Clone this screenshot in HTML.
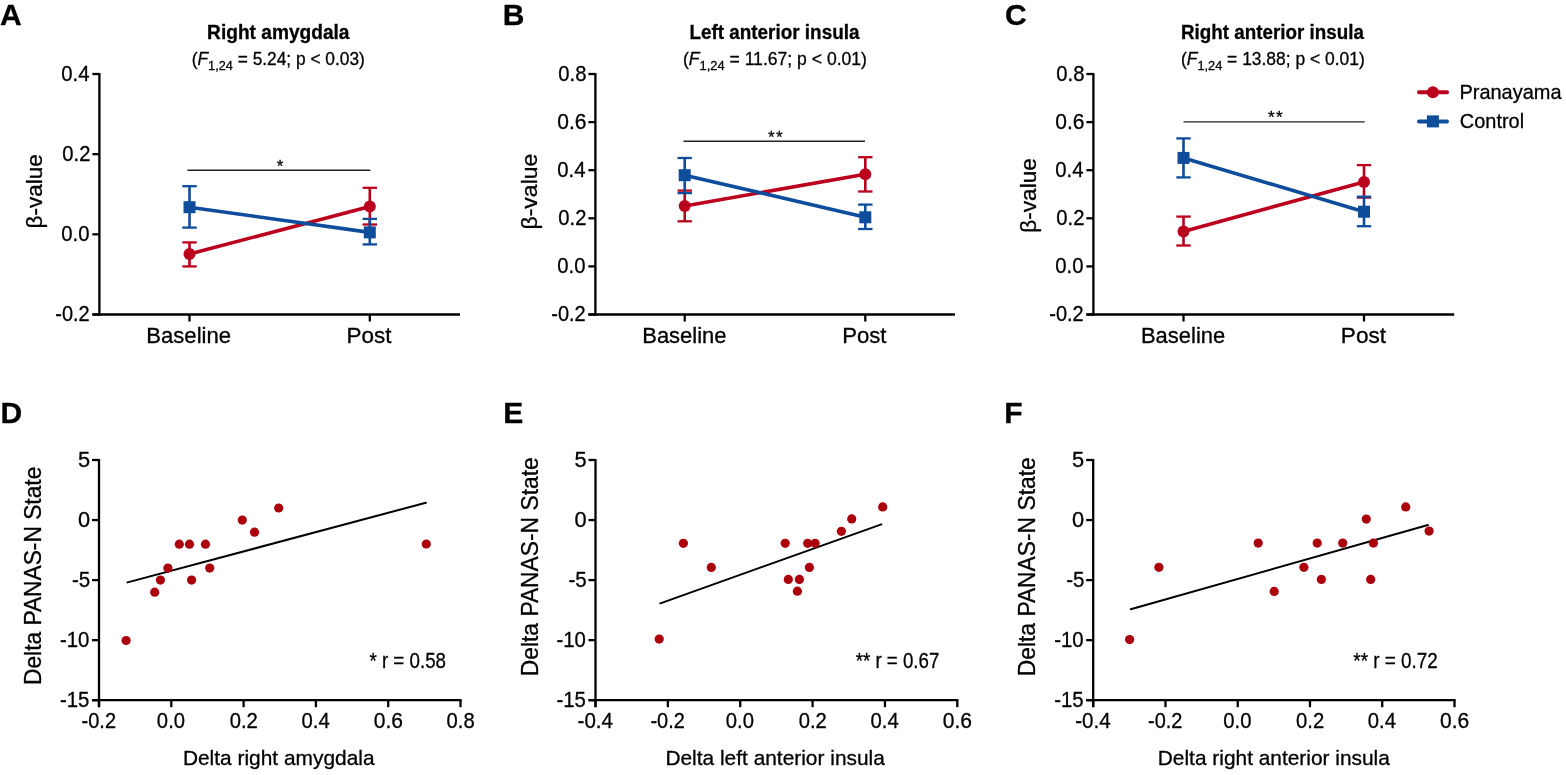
<!DOCTYPE html>
<html><head><meta charset="utf-8"><title>Figure</title>
<style>
html,body{margin:0;padding:0;background:#fff;}
body{width:1566px;height:775px;overflow:hidden;}
svg{display:block;font-family:'Liberation Sans', Arial, sans-serif;}
text{stroke:#000;stroke-width:0.3px;stroke-linejoin:round;}
</style></head><body>
<svg width="1566" height="775" viewBox="0 0 1566 775">
<rect width="1566" height="775" fill="#fff"/>
<line x1="99.40" y1="73.00" x2="99.40" y2="315.65" stroke="#000" stroke-width="2.3" stroke-linecap="butt"/>
<line x1="92.40" y1="314.50" x2="460.00" y2="314.50" stroke="#000" stroke-width="2.3" stroke-linecap="butt"/>
<line x1="92.40" y1="314.50" x2="99.40" y2="314.50" stroke="#000" stroke-width="2.3" stroke-linecap="butt"/>
<line x1="92.40" y1="234.33" x2="99.40" y2="234.33" stroke="#000" stroke-width="2.3" stroke-linecap="butt"/>
<line x1="92.40" y1="154.17" x2="99.40" y2="154.17" stroke="#000" stroke-width="2.3" stroke-linecap="butt"/>
<line x1="92.40" y1="74.00" x2="99.40" y2="74.00" stroke="#000" stroke-width="2.3" stroke-linecap="butt"/>
<line x1="189.50" y1="314.50" x2="189.50" y2="321.50" stroke="#000" stroke-width="2.3" stroke-linecap="butt"/>
<line x1="369.80" y1="314.50" x2="369.80" y2="321.50" stroke="#000" stroke-width="2.3" stroke-linecap="butt"/>
<line x1="187.40" y1="170.20" x2="370.40" y2="170.20" stroke="#222" stroke-width="1.4" stroke-linecap="butt"/>
<line x1="189.50" y1="254.10" x2="369.80" y2="206.40" stroke="#bb001d" stroke-width="3.6" stroke-linecap="butt"/>
<line x1="189.50" y1="242.40" x2="189.50" y2="266.40" stroke="#bb001d" stroke-width="2.6" stroke-linecap="butt"/>
<line x1="182.30" y1="242.40" x2="196.70" y2="242.40" stroke="#bb001d" stroke-width="2.3" stroke-linecap="butt"/>
<line x1="182.30" y1="266.40" x2="196.70" y2="266.40" stroke="#bb001d" stroke-width="2.3" stroke-linecap="butt"/>
<circle cx="189.5" cy="254.1" r="6" fill="#bb001d"/>
<line x1="369.80" y1="187.80" x2="369.80" y2="224.50" stroke="#bb001d" stroke-width="2.6" stroke-linecap="butt"/>
<line x1="362.60" y1="187.80" x2="377.00" y2="187.80" stroke="#bb001d" stroke-width="2.3" stroke-linecap="butt"/>
<line x1="362.60" y1="224.50" x2="377.00" y2="224.50" stroke="#bb001d" stroke-width="2.3" stroke-linecap="butt"/>
<circle cx="369.8" cy="206.4" r="6" fill="#bb001d"/>
<line x1="189.50" y1="207.20" x2="369.80" y2="232.40" stroke="#0e4c9c" stroke-width="3.6" stroke-linecap="butt"/>
<line x1="189.50" y1="186.20" x2="189.50" y2="227.60" stroke="#0e4c9c" stroke-width="2.6" stroke-linecap="butt"/>
<line x1="182.30" y1="186.20" x2="196.70" y2="186.20" stroke="#0e4c9c" stroke-width="2.3" stroke-linecap="butt"/>
<line x1="182.30" y1="227.60" x2="196.70" y2="227.60" stroke="#0e4c9c" stroke-width="2.3" stroke-linecap="butt"/>
<rect x="183.5" y="201.2" width="12" height="12" fill="#0e4c9c"/>
<line x1="369.80" y1="218.90" x2="369.80" y2="244.40" stroke="#0e4c9c" stroke-width="2.6" stroke-linecap="butt"/>
<line x1="362.60" y1="218.90" x2="377.00" y2="218.90" stroke="#0e4c9c" stroke-width="2.3" stroke-linecap="butt"/>
<line x1="362.60" y1="244.40" x2="377.00" y2="244.40" stroke="#0e4c9c" stroke-width="2.3" stroke-linecap="butt"/>
<rect x="363.8" y="226.4" width="12" height="12" fill="#0e4c9c"/>
<line x1="595.40" y1="73.00" x2="595.40" y2="315.65" stroke="#000" stroke-width="2.3" stroke-linecap="butt"/>
<line x1="588.40" y1="314.50" x2="955.00" y2="314.50" stroke="#000" stroke-width="2.3" stroke-linecap="butt"/>
<line x1="588.40" y1="314.50" x2="595.40" y2="314.50" stroke="#000" stroke-width="2.3" stroke-linecap="butt"/>
<line x1="588.40" y1="266.40" x2="595.40" y2="266.40" stroke="#000" stroke-width="2.3" stroke-linecap="butt"/>
<line x1="588.40" y1="218.30" x2="595.40" y2="218.30" stroke="#000" stroke-width="2.3" stroke-linecap="butt"/>
<line x1="588.40" y1="170.20" x2="595.40" y2="170.20" stroke="#000" stroke-width="2.3" stroke-linecap="butt"/>
<line x1="588.40" y1="122.10" x2="595.40" y2="122.10" stroke="#000" stroke-width="2.3" stroke-linecap="butt"/>
<line x1="588.40" y1="74.00" x2="595.40" y2="74.00" stroke="#000" stroke-width="2.3" stroke-linecap="butt"/>
<line x1="684.70" y1="314.50" x2="684.70" y2="321.50" stroke="#000" stroke-width="2.3" stroke-linecap="butt"/>
<line x1="865.30" y1="314.50" x2="865.30" y2="321.50" stroke="#000" stroke-width="2.3" stroke-linecap="butt"/>
<line x1="683.50" y1="141.30" x2="865.00" y2="141.30" stroke="#222" stroke-width="1.4" stroke-linecap="butt"/>
<line x1="684.70" y1="205.90" x2="865.30" y2="174.30" stroke="#bb001d" stroke-width="3.6" stroke-linecap="butt"/>
<line x1="684.70" y1="190.60" x2="684.70" y2="221.30" stroke="#bb001d" stroke-width="2.6" stroke-linecap="butt"/>
<line x1="677.50" y1="190.60" x2="691.90" y2="190.60" stroke="#bb001d" stroke-width="2.3" stroke-linecap="butt"/>
<line x1="677.50" y1="221.30" x2="691.90" y2="221.30" stroke="#bb001d" stroke-width="2.3" stroke-linecap="butt"/>
<circle cx="684.7" cy="205.9" r="6" fill="#bb001d"/>
<line x1="865.30" y1="157.20" x2="865.30" y2="191.50" stroke="#bb001d" stroke-width="2.6" stroke-linecap="butt"/>
<line x1="858.10" y1="157.20" x2="872.50" y2="157.20" stroke="#bb001d" stroke-width="2.3" stroke-linecap="butt"/>
<line x1="858.10" y1="191.50" x2="872.50" y2="191.50" stroke="#bb001d" stroke-width="2.3" stroke-linecap="butt"/>
<circle cx="865.3" cy="174.3" r="6" fill="#bb001d"/>
<line x1="684.70" y1="175.20" x2="865.30" y2="217.30" stroke="#0e4c9c" stroke-width="3.6" stroke-linecap="butt"/>
<line x1="684.70" y1="158.00" x2="684.70" y2="193.10" stroke="#0e4c9c" stroke-width="2.6" stroke-linecap="butt"/>
<line x1="677.50" y1="158.00" x2="691.90" y2="158.00" stroke="#0e4c9c" stroke-width="2.3" stroke-linecap="butt"/>
<line x1="677.50" y1="193.10" x2="691.90" y2="193.10" stroke="#0e4c9c" stroke-width="2.3" stroke-linecap="butt"/>
<rect x="678.7" y="169.2" width="12" height="12" fill="#0e4c9c"/>
<line x1="865.30" y1="204.60" x2="865.30" y2="229.00" stroke="#0e4c9c" stroke-width="2.6" stroke-linecap="butt"/>
<line x1="858.10" y1="204.60" x2="872.50" y2="204.60" stroke="#0e4c9c" stroke-width="2.3" stroke-linecap="butt"/>
<line x1="858.10" y1="229.00" x2="872.50" y2="229.00" stroke="#0e4c9c" stroke-width="2.3" stroke-linecap="butt"/>
<rect x="859.3" y="211.3" width="12" height="12" fill="#0e4c9c"/>
<line x1="1093.40" y1="73.00" x2="1093.40" y2="315.65" stroke="#000" stroke-width="2.3" stroke-linecap="butt"/>
<line x1="1086.40" y1="314.50" x2="1454.20" y2="314.50" stroke="#000" stroke-width="2.3" stroke-linecap="butt"/>
<line x1="1086.40" y1="314.50" x2="1093.40" y2="314.50" stroke="#000" stroke-width="2.3" stroke-linecap="butt"/>
<line x1="1086.40" y1="266.40" x2="1093.40" y2="266.40" stroke="#000" stroke-width="2.3" stroke-linecap="butt"/>
<line x1="1086.40" y1="218.30" x2="1093.40" y2="218.30" stroke="#000" stroke-width="2.3" stroke-linecap="butt"/>
<line x1="1086.40" y1="170.20" x2="1093.40" y2="170.20" stroke="#000" stroke-width="2.3" stroke-linecap="butt"/>
<line x1="1086.40" y1="122.10" x2="1093.40" y2="122.10" stroke="#000" stroke-width="2.3" stroke-linecap="butt"/>
<line x1="1086.40" y1="74.00" x2="1093.40" y2="74.00" stroke="#000" stroke-width="2.3" stroke-linecap="butt"/>
<line x1="1183.50" y1="314.50" x2="1183.50" y2="321.50" stroke="#000" stroke-width="2.3" stroke-linecap="butt"/>
<line x1="1364.00" y1="314.50" x2="1364.00" y2="321.50" stroke="#000" stroke-width="2.3" stroke-linecap="butt"/>
<line x1="1183.50" y1="121.90" x2="1364.70" y2="121.90" stroke="#222" stroke-width="1.4" stroke-linecap="butt"/>
<line x1="1183.50" y1="231.40" x2="1364.00" y2="181.90" stroke="#bb001d" stroke-width="3.6" stroke-linecap="butt"/>
<line x1="1183.50" y1="216.60" x2="1183.50" y2="245.50" stroke="#bb001d" stroke-width="2.6" stroke-linecap="butt"/>
<line x1="1176.30" y1="216.60" x2="1190.70" y2="216.60" stroke="#bb001d" stroke-width="2.3" stroke-linecap="butt"/>
<line x1="1176.30" y1="245.50" x2="1190.70" y2="245.50" stroke="#bb001d" stroke-width="2.3" stroke-linecap="butt"/>
<circle cx="1183.5" cy="231.4" r="6" fill="#bb001d"/>
<line x1="1364.00" y1="165.10" x2="1364.00" y2="197.60" stroke="#bb001d" stroke-width="2.6" stroke-linecap="butt"/>
<line x1="1356.80" y1="165.10" x2="1371.20" y2="165.10" stroke="#bb001d" stroke-width="2.3" stroke-linecap="butt"/>
<line x1="1356.80" y1="197.60" x2="1371.20" y2="197.60" stroke="#bb001d" stroke-width="2.3" stroke-linecap="butt"/>
<circle cx="1364" cy="181.9" r="6" fill="#bb001d"/>
<line x1="1183.50" y1="157.90" x2="1364.00" y2="211.70" stroke="#0e4c9c" stroke-width="3.6" stroke-linecap="butt"/>
<line x1="1183.50" y1="138.40" x2="1183.50" y2="177.40" stroke="#0e4c9c" stroke-width="2.6" stroke-linecap="butt"/>
<line x1="1176.30" y1="138.40" x2="1190.70" y2="138.40" stroke="#0e4c9c" stroke-width="2.3" stroke-linecap="butt"/>
<line x1="1176.30" y1="177.40" x2="1190.70" y2="177.40" stroke="#0e4c9c" stroke-width="2.3" stroke-linecap="butt"/>
<rect x="1177.5" y="151.9" width="12" height="12" fill="#0e4c9c"/>
<line x1="1364.00" y1="196.70" x2="1364.00" y2="226.20" stroke="#0e4c9c" stroke-width="2.6" stroke-linecap="butt"/>
<line x1="1356.80" y1="196.70" x2="1371.20" y2="196.70" stroke="#0e4c9c" stroke-width="2.3" stroke-linecap="butt"/>
<line x1="1356.80" y1="226.20" x2="1371.20" y2="226.20" stroke="#0e4c9c" stroke-width="2.3" stroke-linecap="butt"/>
<rect x="1358" y="205.7" width="12" height="12" fill="#0e4c9c"/>
<line x1="1419.00" y1="92.30" x2="1447.00" y2="92.30" stroke="#bb001d" stroke-width="4" stroke-linecap="round"/>
<circle cx="1432.9" cy="92.3" r="6" fill="#bb001d"/>
<line x1="1419.00" y1="121.40" x2="1447.00" y2="121.40" stroke="#0e4c9c" stroke-width="4" stroke-linecap="round"/>
<rect x="1426.9" y="115.4" width="12" height="12" fill="#0e4c9c"/>
<line x1="99.00" y1="459.00" x2="99.00" y2="707.20" stroke="#000" stroke-width="2.3" stroke-linecap="butt"/>
<line x1="92.00" y1="700.20" x2="461.65" y2="700.20" stroke="#000" stroke-width="2.3" stroke-linecap="butt"/>
<line x1="92.00" y1="460.00" x2="99.00" y2="460.00" stroke="#000" stroke-width="2.3" stroke-linecap="butt"/>
<line x1="92.00" y1="520.05" x2="99.00" y2="520.05" stroke="#000" stroke-width="2.3" stroke-linecap="butt"/>
<line x1="92.00" y1="580.10" x2="99.00" y2="580.10" stroke="#000" stroke-width="2.3" stroke-linecap="butt"/>
<line x1="92.00" y1="640.15" x2="99.00" y2="640.15" stroke="#000" stroke-width="2.3" stroke-linecap="butt"/>
<line x1="92.00" y1="700.20" x2="99.00" y2="700.20" stroke="#000" stroke-width="2.3" stroke-linecap="butt"/>
<line x1="99.00" y1="700.20" x2="99.00" y2="707.20" stroke="#000" stroke-width="2.3" stroke-linecap="butt"/>
<line x1="171.30" y1="700.20" x2="171.30" y2="707.20" stroke="#000" stroke-width="2.3" stroke-linecap="butt"/>
<line x1="243.60" y1="700.20" x2="243.60" y2="707.20" stroke="#000" stroke-width="2.3" stroke-linecap="butt"/>
<line x1="315.90" y1="700.20" x2="315.90" y2="707.20" stroke="#000" stroke-width="2.3" stroke-linecap="butt"/>
<line x1="388.20" y1="700.20" x2="388.20" y2="707.20" stroke="#000" stroke-width="2.3" stroke-linecap="butt"/>
<line x1="460.50" y1="700.20" x2="460.50" y2="707.20" stroke="#000" stroke-width="2.3" stroke-linecap="butt"/>
<line x1="127.57" y1="582.39" x2="425.93" y2="502.71" stroke="#000" stroke-width="2.0" stroke-linecap="round"/>
<circle cx="126.1" cy="640.5" r="4.6" fill="#ab000c"/>
<circle cx="154.7" cy="592.2" r="4.6" fill="#ab000c"/>
<circle cx="160.4" cy="580.1" r="4.6" fill="#ab000c"/>
<circle cx="167.9" cy="568.1" r="4.6" fill="#ab000c"/>
<circle cx="179.3" cy="544.2" r="4.6" fill="#ab000c"/>
<circle cx="189.5" cy="544.2" r="4.6" fill="#ab000c"/>
<circle cx="205.5" cy="544.2" r="4.6" fill="#ab000c"/>
<circle cx="191.6" cy="580.1" r="4.6" fill="#ab000c"/>
<circle cx="209.7" cy="568.1" r="4.6" fill="#ab000c"/>
<circle cx="242.3" cy="520.1" r="4.6" fill="#ab000c"/>
<circle cx="254.5" cy="532.2" r="4.6" fill="#ab000c"/>
<circle cx="278.7" cy="508" r="4.6" fill="#ab000c"/>
<circle cx="426.3" cy="544" r="4.6" fill="#ab000c"/>
<line x1="595.50" y1="459.00" x2="595.50" y2="707.20" stroke="#000" stroke-width="2.3" stroke-linecap="butt"/>
<line x1="588.50" y1="700.20" x2="958.45" y2="700.20" stroke="#000" stroke-width="2.3" stroke-linecap="butt"/>
<line x1="588.50" y1="460.00" x2="595.50" y2="460.00" stroke="#000" stroke-width="2.3" stroke-linecap="butt"/>
<line x1="588.50" y1="520.05" x2="595.50" y2="520.05" stroke="#000" stroke-width="2.3" stroke-linecap="butt"/>
<line x1="588.50" y1="580.10" x2="595.50" y2="580.10" stroke="#000" stroke-width="2.3" stroke-linecap="butt"/>
<line x1="588.50" y1="640.15" x2="595.50" y2="640.15" stroke="#000" stroke-width="2.3" stroke-linecap="butt"/>
<line x1="588.50" y1="700.20" x2="595.50" y2="700.20" stroke="#000" stroke-width="2.3" stroke-linecap="butt"/>
<line x1="595.50" y1="700.20" x2="595.50" y2="707.20" stroke="#000" stroke-width="2.3" stroke-linecap="butt"/>
<line x1="667.86" y1="700.20" x2="667.86" y2="707.20" stroke="#000" stroke-width="2.3" stroke-linecap="butt"/>
<line x1="740.22" y1="700.20" x2="740.22" y2="707.20" stroke="#000" stroke-width="2.3" stroke-linecap="butt"/>
<line x1="812.58" y1="700.20" x2="812.58" y2="707.20" stroke="#000" stroke-width="2.3" stroke-linecap="butt"/>
<line x1="884.94" y1="700.20" x2="884.94" y2="707.20" stroke="#000" stroke-width="2.3" stroke-linecap="butt"/>
<line x1="957.30" y1="700.20" x2="957.30" y2="707.20" stroke="#000" stroke-width="2.3" stroke-linecap="butt"/>
<line x1="660.35" y1="603.33" x2="881.35" y2="524.37" stroke="#000" stroke-width="2.0" stroke-linecap="round"/>
<circle cx="659.2" cy="639.1" r="4.6" fill="#ab000c"/>
<circle cx="683.4" cy="543.3" r="4.6" fill="#ab000c"/>
<circle cx="711.3" cy="567.4" r="4.6" fill="#ab000c"/>
<circle cx="785.2" cy="543.3" r="4.6" fill="#ab000c"/>
<circle cx="788.3" cy="579.4" r="4.6" fill="#ab000c"/>
<circle cx="799.4" cy="579.4" r="4.6" fill="#ab000c"/>
<circle cx="797.4" cy="591.2" r="4.6" fill="#ab000c"/>
<circle cx="807.7" cy="543.3" r="4.6" fill="#ab000c"/>
<circle cx="815.1" cy="543.3" r="4.6" fill="#ab000c"/>
<circle cx="809.4" cy="567.4" r="4.6" fill="#ab000c"/>
<circle cx="841.4" cy="531.3" r="4.6" fill="#ab000c"/>
<circle cx="851.7" cy="518.9" r="4.6" fill="#ab000c"/>
<circle cx="882.7" cy="506.9" r="4.6" fill="#ab000c"/>
<line x1="1093.20" y1="459.00" x2="1093.20" y2="707.20" stroke="#000" stroke-width="2.3" stroke-linecap="butt"/>
<line x1="1086.20" y1="700.20" x2="1455.65" y2="700.20" stroke="#000" stroke-width="2.3" stroke-linecap="butt"/>
<line x1="1086.20" y1="460.00" x2="1093.20" y2="460.00" stroke="#000" stroke-width="2.3" stroke-linecap="butt"/>
<line x1="1086.20" y1="520.05" x2="1093.20" y2="520.05" stroke="#000" stroke-width="2.3" stroke-linecap="butt"/>
<line x1="1086.20" y1="580.10" x2="1093.20" y2="580.10" stroke="#000" stroke-width="2.3" stroke-linecap="butt"/>
<line x1="1086.20" y1="640.15" x2="1093.20" y2="640.15" stroke="#000" stroke-width="2.3" stroke-linecap="butt"/>
<line x1="1086.20" y1="700.20" x2="1093.20" y2="700.20" stroke="#000" stroke-width="2.3" stroke-linecap="butt"/>
<line x1="1093.20" y1="700.20" x2="1093.20" y2="707.20" stroke="#000" stroke-width="2.3" stroke-linecap="butt"/>
<line x1="1165.46" y1="700.20" x2="1165.46" y2="707.20" stroke="#000" stroke-width="2.3" stroke-linecap="butt"/>
<line x1="1237.72" y1="700.20" x2="1237.72" y2="707.20" stroke="#000" stroke-width="2.3" stroke-linecap="butt"/>
<line x1="1309.98" y1="700.20" x2="1309.98" y2="707.20" stroke="#000" stroke-width="2.3" stroke-linecap="butt"/>
<line x1="1382.24" y1="700.20" x2="1382.24" y2="707.20" stroke="#000" stroke-width="2.3" stroke-linecap="butt"/>
<line x1="1454.50" y1="700.20" x2="1454.50" y2="707.20" stroke="#000" stroke-width="2.3" stroke-linecap="butt"/>
<line x1="1130.77" y1="609.18" x2="1427.93" y2="525.02" stroke="#000" stroke-width="2.0" stroke-linecap="round"/>
<circle cx="1129.6" cy="639.6" r="4.6" fill="#ab000c"/>
<circle cx="1158.9" cy="567.3" r="4.6" fill="#ab000c"/>
<circle cx="1258.2" cy="543.1" r="4.6" fill="#ab000c"/>
<circle cx="1274.2" cy="591.4" r="4.6" fill="#ab000c"/>
<circle cx="1303.9" cy="567.3" r="4.6" fill="#ab000c"/>
<circle cx="1317.2" cy="543.1" r="4.6" fill="#ab000c"/>
<circle cx="1321.4" cy="579.4" r="4.6" fill="#ab000c"/>
<circle cx="1342.7" cy="543.1" r="4.6" fill="#ab000c"/>
<circle cx="1366.3" cy="519.1" r="4.6" fill="#ab000c"/>
<circle cx="1373.4" cy="543.1" r="4.6" fill="#ab000c"/>
<circle cx="1370.7" cy="579.4" r="4.6" fill="#ab000c"/>
<circle cx="1405.7" cy="506.9" r="4.6" fill="#ab000c"/>
<circle cx="1429.1" cy="531.1" r="4.6" fill="#ab000c"/>
<text x="0.00" y="24.50" font-size="30" font-weight="700">A</text>
<text x="502.70" y="24.50" font-size="30" font-weight="700">B</text>
<text x="1004.90" y="24.50" font-size="30" font-weight="700">C</text>
<text x="0.60" y="422.70" font-size="30" font-weight="700">D</text>
<text x="503.30" y="422.70" font-size="30" font-weight="700">E</text>
<text x="1004.20" y="422.70" font-size="30" font-weight="700">F</text>
<text x="55.28" y="321.40" font-size="21.8" font-weight="400" textLength="34.43" lengthAdjust="spacingAndGlyphs">-0.2</text>
<text x="61.27" y="241.23" font-size="21.8" font-weight="400" textLength="28.22" lengthAdjust="spacingAndGlyphs">0.0</text>
<text x="62.27" y="161.07" font-size="21.8" font-weight="400" textLength="28.15" lengthAdjust="spacingAndGlyphs">0.2</text>
<text x="61.27" y="80.90" font-size="21.8" font-weight="400" textLength="28.22" lengthAdjust="spacingAndGlyphs">0.4</text>
<text x="146.32" y="343.10" font-size="21.2" font-weight="400" textLength="84.72" lengthAdjust="spacingAndGlyphs">Baseline</text>
<text x="346.48" y="343.10" font-size="21.2" font-weight="400" textLength="44.95" lengthAdjust="spacingAndGlyphs">Post</text>
<text transform="translate(41.60,228.40) rotate(-90)" font-size="22.5" font-weight="400" textLength="74.23" lengthAdjust="spacingAndGlyphs">β-value</text>
<text x="207.12" y="39.00" font-size="19.5" font-weight="700" textLength="142.38" lengthAdjust="spacingAndGlyphs">Right amygdala</text>
<text x="191.76" y="65.20" font-size="18.4" font-weight="400" textLength="173.12" lengthAdjust="spacingAndGlyphs">(<tspan font-style="italic">F</tspan><tspan font-size="13.5" dy="4.5">1,24</tspan><tspan dy="-4.5"> = 5.24; p &lt; 0.03)</tspan></text>
<text x="276.70" y="171.80" font-size="17" font-weight="400" stroke="#000" stroke-width="0.45" stroke-linejoin="round">*</text>
<text x="551.28" y="321.40" font-size="21.8" font-weight="400" textLength="34.43" lengthAdjust="spacingAndGlyphs">-0.2</text>
<text x="557.27" y="273.30" font-size="21.8" font-weight="400" textLength="28.22" lengthAdjust="spacingAndGlyphs">0.0</text>
<text x="558.27" y="225.20" font-size="21.8" font-weight="400" textLength="28.15" lengthAdjust="spacingAndGlyphs">0.2</text>
<text x="557.27" y="177.10" font-size="21.8" font-weight="400" textLength="28.22" lengthAdjust="spacingAndGlyphs">0.4</text>
<text x="557.24" y="129.00" font-size="21.8" font-weight="400" textLength="29.23" lengthAdjust="spacingAndGlyphs">0.6</text>
<text x="558.27" y="80.90" font-size="21.8" font-weight="400" textLength="28.15" lengthAdjust="spacingAndGlyphs">0.8</text>
<text x="642.23" y="343.10" font-size="21.2" font-weight="400" textLength="84.30" lengthAdjust="spacingAndGlyphs">Baseline</text>
<text x="842.21" y="343.10" font-size="21.2" font-weight="400" textLength="44.31" lengthAdjust="spacingAndGlyphs">Post</text>
<text transform="translate(536.50,229.55) rotate(-90)" font-size="22.5" font-weight="400" textLength="75.91" lengthAdjust="spacingAndGlyphs">β-value</text>
<text x="689.43" y="39.00" font-size="19.5" font-weight="700" textLength="170.01" lengthAdjust="spacingAndGlyphs">Left anterior insula</text>
<text x="682.94" y="65.20" font-size="18.4" font-weight="400" textLength="184.02" lengthAdjust="spacingAndGlyphs">(<tspan font-style="italic">F</tspan><tspan font-size="13.5" dy="4.5">1,24</tspan><tspan dy="-4.5"> = 11.67; p &lt; 0.01)</tspan></text>
<text x="767.95" y="142.80" font-size="17" font-weight="400" stroke="#000" stroke-width="0.45" stroke-linejoin="round">*</text>
<text x="776.05" y="142.80" font-size="17" font-weight="400" stroke="#000" stroke-width="0.45" stroke-linejoin="round">*</text>
<text x="1049.28" y="321.40" font-size="21.8" font-weight="400" textLength="34.43" lengthAdjust="spacingAndGlyphs">-0.2</text>
<text x="1055.27" y="273.30" font-size="21.8" font-weight="400" textLength="28.22" lengthAdjust="spacingAndGlyphs">0.0</text>
<text x="1056.27" y="225.20" font-size="21.8" font-weight="400" textLength="28.15" lengthAdjust="spacingAndGlyphs">0.2</text>
<text x="1055.27" y="177.10" font-size="21.8" font-weight="400" textLength="28.22" lengthAdjust="spacingAndGlyphs">0.4</text>
<text x="1055.24" y="129.00" font-size="21.8" font-weight="400" textLength="29.23" lengthAdjust="spacingAndGlyphs">0.6</text>
<text x="1056.27" y="80.90" font-size="21.8" font-weight="400" textLength="28.15" lengthAdjust="spacingAndGlyphs">0.8</text>
<text x="1140.93" y="343.10" font-size="21.2" font-weight="400" textLength="84.30" lengthAdjust="spacingAndGlyphs">Baseline</text>
<text x="1340.87" y="343.10" font-size="21.2" font-weight="400" textLength="45.16" lengthAdjust="spacingAndGlyphs">Post</text>
<text transform="translate(1035.80,232.81) rotate(-90)" font-size="22.5" font-weight="400" textLength="74.65" lengthAdjust="spacingAndGlyphs">β-value</text>
<text x="1180.93" y="39.00" font-size="19.5" font-weight="700" textLength="182.99" lengthAdjust="spacingAndGlyphs">Right anterior insula</text>
<text x="1180.95" y="65.20" font-size="18.4" font-weight="400" textLength="183.75" lengthAdjust="spacingAndGlyphs">(<tspan font-style="italic">F</tspan><tspan font-size="13.5" dy="4.5">1,24</tspan><tspan dy="-4.5"> = 13.88; p &lt; 0.01)</tspan></text>
<text x="1267.95" y="123.30" font-size="17" font-weight="400" stroke="#000" stroke-width="0.45" stroke-linejoin="round">*</text>
<text x="1276.05" y="123.30" font-size="17" font-weight="400" stroke="#000" stroke-width="0.45" stroke-linejoin="round">*</text>
<text x="1459.48" y="98.60" font-size="20.8" font-weight="400" textLength="102.06" lengthAdjust="spacingAndGlyphs">Pranayama</text>
<text x="1459.84" y="127.80" font-size="20.8" font-weight="400" textLength="64.26" lengthAdjust="spacingAndGlyphs">Control</text>
<text x="77.90" y="467.00" font-size="21.8" font-weight="400" textLength="12.12" lengthAdjust="spacingAndGlyphs">5</text>
<text x="77.90" y="527.05" font-size="21.8" font-weight="400" textLength="12.12" lengthAdjust="spacingAndGlyphs">0</text>
<text x="71.96" y="587.10" font-size="21.8" font-weight="400" textLength="18.25" lengthAdjust="spacingAndGlyphs">-5</text>
<text x="59.97" y="647.15" font-size="21.8" font-weight="400" textLength="29.41" lengthAdjust="spacingAndGlyphs">-10</text>
<text x="59.97" y="707.20" font-size="21.8" font-weight="400" textLength="29.41" lengthAdjust="spacingAndGlyphs">-15</text>
<text x="81.58" y="728.00" font-size="21.8" font-weight="400" textLength="34.43" lengthAdjust="spacingAndGlyphs">-0.2</text>
<text x="156.87" y="728.00" font-size="21.8" font-weight="400" textLength="28.22" lengthAdjust="spacingAndGlyphs">0.0</text>
<text x="229.67" y="728.00" font-size="21.8" font-weight="400" textLength="28.15" lengthAdjust="spacingAndGlyphs">0.2</text>
<text x="301.47" y="728.00" font-size="21.8" font-weight="400" textLength="28.22" lengthAdjust="spacingAndGlyphs">0.4</text>
<text x="373.74" y="728.00" font-size="21.8" font-weight="400" textLength="29.23" lengthAdjust="spacingAndGlyphs">0.6</text>
<text x="446.57" y="728.00" font-size="21.8" font-weight="400" textLength="28.15" lengthAdjust="spacingAndGlyphs">0.8</text>
<text x="182.91" y="765.00" font-size="21" font-weight="400" textLength="191.70" lengthAdjust="spacingAndGlyphs">Delta right amygdala</text>
<text transform="translate(40.90,685.01) rotate(-90)" font-size="23.8" font-weight="400" textLength="218.31" lengthAdjust="spacingAndGlyphs">Delta PANAS-N State</text>
<text x="369.40" y="668.40" font-size="21.8" font-weight="400" textLength="76.63" lengthAdjust="spacingAndGlyphs"><tspan stroke="#000" stroke-width="0.3" stroke-linejoin="round">*</tspan> r = 0.58</text>
<text x="574.40" y="467.00" font-size="21.8" font-weight="400" textLength="12.12" lengthAdjust="spacingAndGlyphs">5</text>
<text x="574.40" y="527.05" font-size="21.8" font-weight="400" textLength="12.12" lengthAdjust="spacingAndGlyphs">0</text>
<text x="568.46" y="587.10" font-size="21.8" font-weight="400" textLength="18.25" lengthAdjust="spacingAndGlyphs">-5</text>
<text x="556.47" y="647.15" font-size="21.8" font-weight="400" textLength="29.41" lengthAdjust="spacingAndGlyphs">-10</text>
<text x="556.47" y="707.20" font-size="21.8" font-weight="400" textLength="29.41" lengthAdjust="spacingAndGlyphs">-15</text>
<text x="577.56" y="728.00" font-size="21.8" font-weight="400" textLength="35.48" lengthAdjust="spacingAndGlyphs">-0.4</text>
<text x="650.44" y="728.00" font-size="21.8" font-weight="400" textLength="34.43" lengthAdjust="spacingAndGlyphs">-0.2</text>
<text x="725.79" y="728.00" font-size="21.8" font-weight="400" textLength="28.22" lengthAdjust="spacingAndGlyphs">0.0</text>
<text x="798.65" y="728.00" font-size="21.8" font-weight="400" textLength="28.15" lengthAdjust="spacingAndGlyphs">0.2</text>
<text x="870.51" y="728.00" font-size="21.8" font-weight="400" textLength="28.22" lengthAdjust="spacingAndGlyphs">0.4</text>
<text x="942.84" y="728.00" font-size="21.8" font-weight="400" textLength="29.23" lengthAdjust="spacingAndGlyphs">0.6</text>
<text x="665.41" y="765.00" font-size="21" font-weight="400" textLength="219.42" lengthAdjust="spacingAndGlyphs">Delta left anterior insula</text>
<text transform="translate(537.50,676.22) rotate(-90)" font-size="23.8" font-weight="400" textLength="218.92" lengthAdjust="spacingAndGlyphs">Delta PANAS-N State</text>
<text x="855.70" y="668.40" font-size="21.8" font-weight="400" textLength="83.68" lengthAdjust="spacingAndGlyphs"><tspan stroke="#000" stroke-width="0.3" stroke-linejoin="round">**</tspan> r = 0.67</text>
<text x="1072.10" y="467.00" font-size="21.8" font-weight="400" textLength="12.12" lengthAdjust="spacingAndGlyphs">5</text>
<text x="1072.10" y="527.05" font-size="21.8" font-weight="400" textLength="12.12" lengthAdjust="spacingAndGlyphs">0</text>
<text x="1066.16" y="587.10" font-size="21.8" font-weight="400" textLength="18.25" lengthAdjust="spacingAndGlyphs">-5</text>
<text x="1054.17" y="647.15" font-size="21.8" font-weight="400" textLength="29.41" lengthAdjust="spacingAndGlyphs">-10</text>
<text x="1054.17" y="707.20" font-size="21.8" font-weight="400" textLength="29.41" lengthAdjust="spacingAndGlyphs">-15</text>
<text x="1075.26" y="728.00" font-size="21.8" font-weight="400" textLength="35.48" lengthAdjust="spacingAndGlyphs">-0.4</text>
<text x="1148.04" y="728.00" font-size="21.8" font-weight="400" textLength="34.43" lengthAdjust="spacingAndGlyphs">-0.2</text>
<text x="1223.29" y="728.00" font-size="21.8" font-weight="400" textLength="28.22" lengthAdjust="spacingAndGlyphs">0.0</text>
<text x="1296.05" y="728.00" font-size="21.8" font-weight="400" textLength="28.15" lengthAdjust="spacingAndGlyphs">0.2</text>
<text x="1367.81" y="728.00" font-size="21.8" font-weight="400" textLength="28.22" lengthAdjust="spacingAndGlyphs">0.4</text>
<text x="1440.04" y="728.00" font-size="21.8" font-weight="400" textLength="29.23" lengthAdjust="spacingAndGlyphs">0.6</text>
<text x="1157.81" y="765.00" font-size="21" font-weight="400" textLength="232.04" lengthAdjust="spacingAndGlyphs">Delta right anterior insula</text>
<text transform="translate(1035.10,676.22) rotate(-90)" font-size="23.8" font-weight="400" textLength="218.92" lengthAdjust="spacingAndGlyphs">Delta PANAS-N State</text>
<text x="1353.30" y="668.40" font-size="21.8" font-weight="400" textLength="84.59" lengthAdjust="spacingAndGlyphs"><tspan stroke="#000" stroke-width="0.3" stroke-linejoin="round">**</tspan> r = 0.72</text>
</svg>
</body></html>
